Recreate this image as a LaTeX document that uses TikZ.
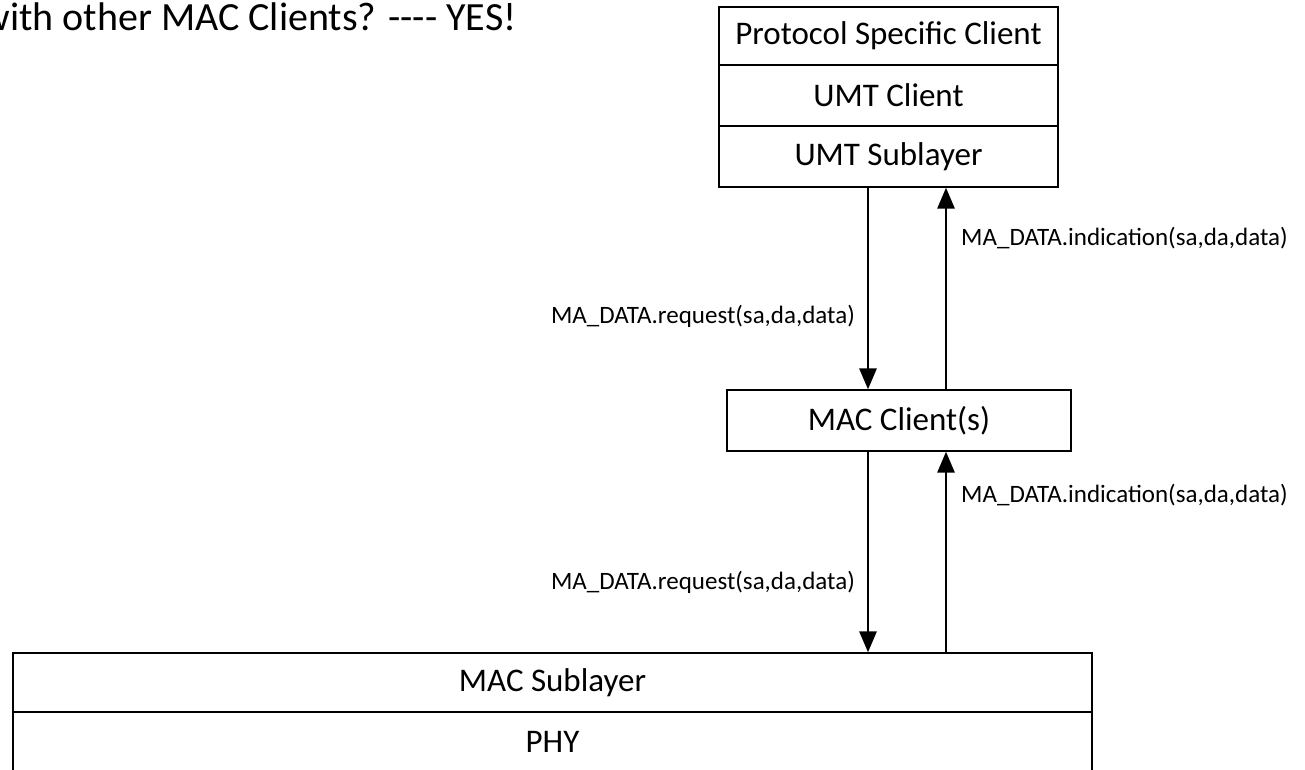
\documentclass[tikz,border=0pt]{standalone}
\usepackage{fontspec}
\setmainfont{Carlito}
\usetikzlibrary{arrows.meta}
\begin{document}
\begin{tikzpicture}[x=1pt,y=-1pt,
  layerbox/.style={draw,line width=1.3pt,inner sep=0pt,font=\fontsize{33}{40}\selectfont},
  arr/.style={line width=2.8pt,-{Triangle[width=17pt,length=21pt]}},
  lbl/.style={inner sep=0pt,font=\fontsize{25}{30}\selectfont}]
\useasboundingbox (0,0) rectangle (1305,769);
\clip (0,0) rectangle (1305,769);
\node[anchor=base west,inner sep=0pt,font=\fontsize{40}{48}\selectfont] (q) at (-18.6,30) {with other MAC Clients? -{}-{}-{}- YES!};
\node[layerbox,minimum width=339pt,minimum height=58pt] (psc) at (888.5,36) {Protocol Specific Client};
\node[layerbox,minimum width=339pt,minimum height=61pt] (umtc) at (888.5,95.5) {UMT Client};
\node[layerbox,minimum width=339pt,minimum height=61pt] (umts) at (888.5,156.5) {UMT Sublayer};
\node[layerbox,minimum width=344pt,minimum height=61pt] (macc) at (899,420.5) {MAC Client(s)};
\node[layerbox,minimum width=1079pt,minimum height=59pt] (macs) at (552.5,682.5) {MAC Sublayer};
\node[layerbox,minimum width=1079pt,minimum height=59pt] (phy) at (552.5,741.5) {PHY};
\coordinate (dx) at (868,0);
\coordinate (ux) at (946,0);
\draw[arr] (umts.south -| dx) -- (macc.north -| dx);
\draw[arr] (macc.north -| ux) -- (umts.south -| ux);
\draw[arr] (macc.south -| dx) -- (macs.north -| dx);
\draw[arr] (macs.north -| ux) -- (macc.south -| ux);
\node[lbl,anchor=base east] (l1) at (855,323) {MA\_DATA.request(sa,da,data)};
\node[lbl,anchor=base west] (l2) at (961,245) {MA\_DATA.indication(sa,da,data)};
\node[lbl,anchor=base east] (l3) at (855,589) {MA\_DATA.request(sa,da,data)};
\node[lbl,anchor=base west] (l4) at (961,502) {MA\_DATA.indication(sa,da,data)};
\end{tikzpicture}
\end{document}
